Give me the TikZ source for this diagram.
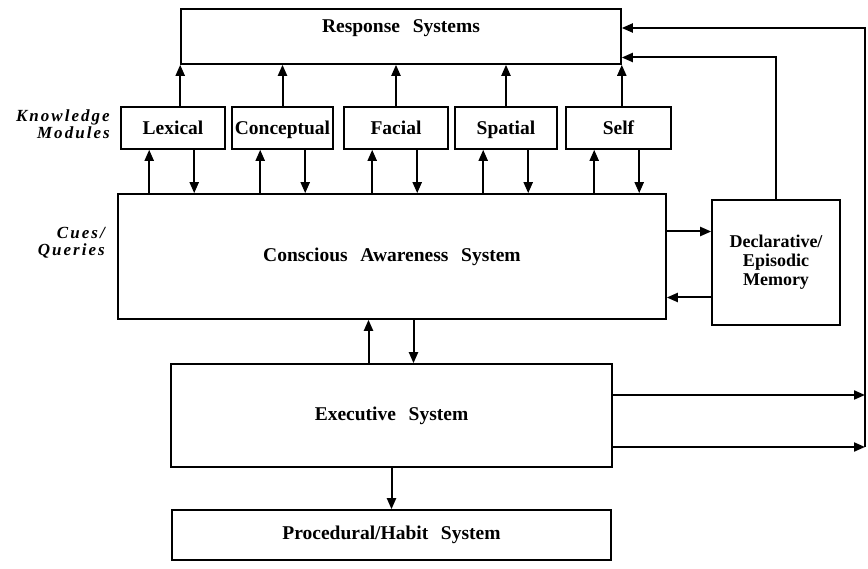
\documentclass[tikz,border=0pt]{standalone}
\usepackage{fontspec}
\setmainfont[WordSpace=2.6]{Liberation Serif}
\newfontfamily\lblfont[LetterSpace=12]{Liberation Serif}
\usetikzlibrary{arrows.meta}
\begin{document}
\begin{tikzpicture}[x=1pt,y=-1pt,
  box/.style={draw,line width=1.6pt,inner sep=0pt,align=center,
    font=\fontsize{19.5}{20}\selectfont\bfseries},
  mod/.style={box,minimum height=42pt,text height=14pt,text depth=0.5pt},
  txt/.style={inner sep=0pt,font=\fontsize{19.5}{16.5}\selectfont\bfseries},
  arr/.style={line width=2pt,-{Triangle[length=11pt,width=9pt]}},
  side/.style={font=\lblfont\fontsize{17}{17}\selectfont\bfseries\itshape,
    align=right,anchor=east,inner sep=0pt}]
\useasboundingbox (0,0) rectangle (868,569);
% boxes
\node[box,minimum width=440pt,minimum height=55pt] (resp) at (401,36.5) {};
\node[txt] (resptxt) at (401,28) {Response Systems};
\node[mod,minimum width=104pt] (lex) at (173,128) {Lexical};
\node[mod,minimum width=101pt] (con) at (282.5,128) {Conceptual};
\node[mod,minimum width=104pt] (fac) at (396,128) {Facial};
\node[mod,minimum width=102pt] (spa) at (506,128) {Spatial};
\node[mod,minimum width=105pt] (self) at (618.5,128) {Self};
\node[box,minimum width=548pt,minimum height=125pt] (cas) at (392,256.5) {Conscious Awareness System};
\node[box,minimum width=128pt,minimum height=125pt,
  font=\fontsize{18}{19}\selectfont\bfseries] (decl) at (776,262.5) {Declarative/\\Episodic\\Memory};
\node[box,minimum width=441pt,minimum height=103pt] (exec) at (391.5,415.5) {Executive System};
\node[box,minimum width=439pt,minimum height=50pt] (proc) at (391.5,535) {Procedural/Habit System};
% side labels
\node[side] (km) at (110,124) {Knowledge\\Modules};
\node[side] (cq) at (105,243) {Cues/\\Queries};
% modules to response systems
\draw[arr] (lex.north -| resp.west) -- (resp.south west);
\draw[arr] (con.north) -- (con.north |- resp.south);
\draw[arr] (fac.north) -- (fac.north |- resp.south);
\draw[arr] (spa.north) -- (spa.north |- resp.south);
\draw[arr] (self.north -| resp.east) -- (resp.south east);
% modules <-> conscious awareness
\foreach \m in {lex,con,fac,spa,self}{
  \path (\m.south west) ++(29,0) coordinate (\m-u) ++(45,0) coordinate (\m-d);
  \draw[arr] (\m-u |- cas.north) -- (\m-u);
  \draw[arr] (\m-d) -- (\m-d |- cas.north);
}
% CAS <-> declarative
\coordinate (d1) at ([yshift=31pt]decl.west);
\coordinate (d2) at ([yshift=-35pt]decl.west);
\draw[arr] (cas.east |- d1) -- (d1);
\draw[arr] (d2) -- (cas.east |- d2);
% declarative to response
\coordinate (r2) at ([yshift=-21pt]resp.east);
\draw[arr] (decl.north) |- (r2);
% CAS <-> executive
\coordinate (c1) at ([xshift=-23pt]exec.north);
\coordinate (c2) at ([xshift=22pt]exec.north);
\draw[arr] (c1) -- (c1 |- cas.south);
\draw[arr] (c2 |- cas.south) -- (c2);
% executive to procedural
\draw[arr] (exec.south) -- (proc.north);
% executive loop to response systems
\coordinate (ox) at (865,0);
\coordinate (e1) at ([yshift=20.5pt]exec.east);
\coordinate (e2) at ([yshift=-31.5pt]exec.east);
\coordinate (r1) at ([yshift=8.5pt]resp.east);
\draw[arr] (e1) -- (e1 -| ox);
\draw[arr] (e2) -- (e2 -| ox);
\draw[arr] (e2 -| ox) -- (r1 -| ox) -- (r1);
\end{tikzpicture}
\end{document}
